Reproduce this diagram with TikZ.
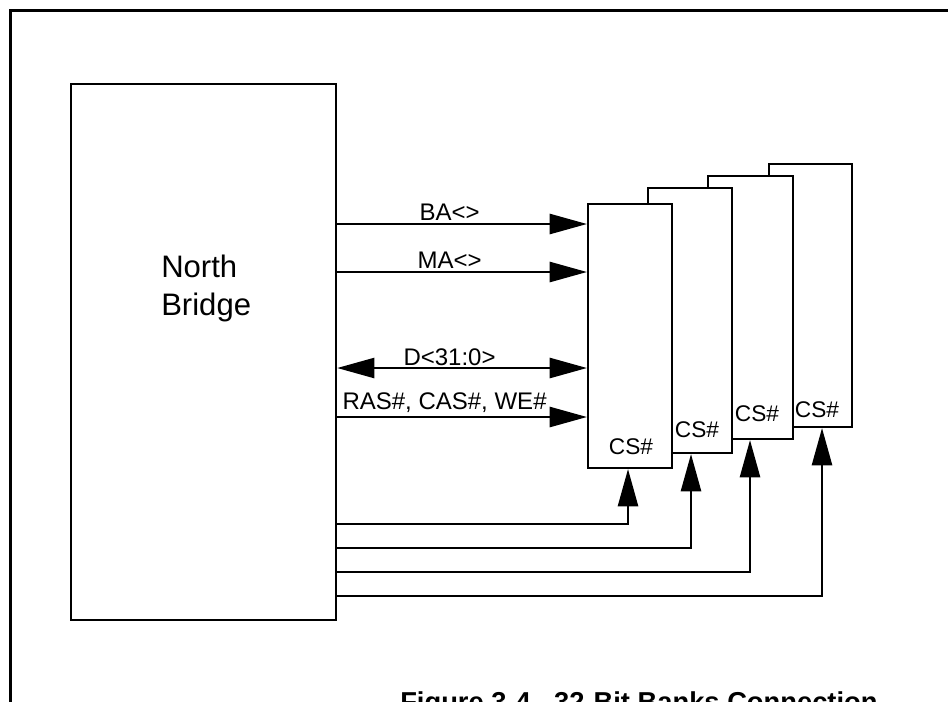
\documentclass[tikz,border=0pt]{standalone}
\usepackage{fontspec}
\setmainfont{Liberation Sans}
\usetikzlibrary{arrows.meta,fit}
\begin{document}
\begin{tikzpicture}[x=0.75pt,y=-0.75pt,>={Triangle[length=28pt,width=15pt]},
		sig/.style={line width=2pt},
		khoi/.style={draw,line width=1.7pt,inner sep=0pt,fill=white},
		nhan/.style={font=\fontsize{18}{20}\selectfont,inner sep=1pt},
		cs/.style={font=\fontsize{17}{20}\selectfont,inner sep=0pt}]
	\useasboundingbox (0,0) rectangle (948,701); %khung hinh
	\clip (0,0) rectangle (948,701);
	\draw[line width=1.7pt] (10.5,720) |- (960,10.5); %vien ngoai
	% North Bridge
	\node[khoi,fit={(71,84) (336,620)}] (nb) {};
	\node[font=\fontsize{23.3}{28.5}\selectfont,align=left,anchor=west,inner sep=0pt]
	(nbten) at (161,288) {North\\Bridge};
	% 4 bank, ve tu sau ra truoc
	\foreach \ten/\xa/\ya/\xb/\yb in {D/769/164/852/427,C/708/176/793/439,
		B/648/188/732/453,A/588/204/672/468}
	\node[khoi,line width=1.5pt,fit={(\xa,\ya) (\xb,\yb)}] (bank\ten) {};
	\node[cs] (csA) at (631,447) {CS\#};
	\node[cs] (csB) at (697,430) {CS\#};
	\node[cs] (csC) at (757,414) {CS\#};
	\node[cs] (csD) at (817,410) {CS\#};
	% cac duong tin hieu
	\draw[sig,->] (nb.east |- 0,224) -- (bankA.west |- 0,224)
	node[nhan,above=1pt,pos=.45] {BA<>};
	\draw[sig,->] (nb.east |- 0,272) -- (bankA.west |- 0,272)
	node[nhan,above=1pt,pos=.45] {MA<>};
	\draw[sig,<->] (nb.east |- 0,368) -- (bankA.west |- 0,368)
	node[nhan,above=0pt,pos=.45] {D<31:0>};
	\draw[sig,->] (nb.east |- 0,417) -- (bankA.west |- 0,417)
	node[nhan,above=1pt,pos=.43] {RAS\#, CAS\#, WE\#};
	% duong CS#
	\draw[sig,->] (nb.east |- 0,524) -| (bankA.south -| 628,0);
	\draw[sig,->] (nb.east |- 0,548) -| (bankB.south -| 691,0);
	\draw[sig,->] (nb.east |- 0,572) -| (bankC.south -| 750,0);
	\draw[sig,->] (nb.east |- 0,596) -| (bankD.south -| 822,0);
	% chu thich
	\node[anchor=base west,font=\bfseries\fontsize{20.5}{24}\selectfont,inner sep=0pt]
	(hinh) at (400,711.5) {Figure 3-4\hspace{0.85em}32-Bit Banks Connection};
\end{tikzpicture}
\end{document}
